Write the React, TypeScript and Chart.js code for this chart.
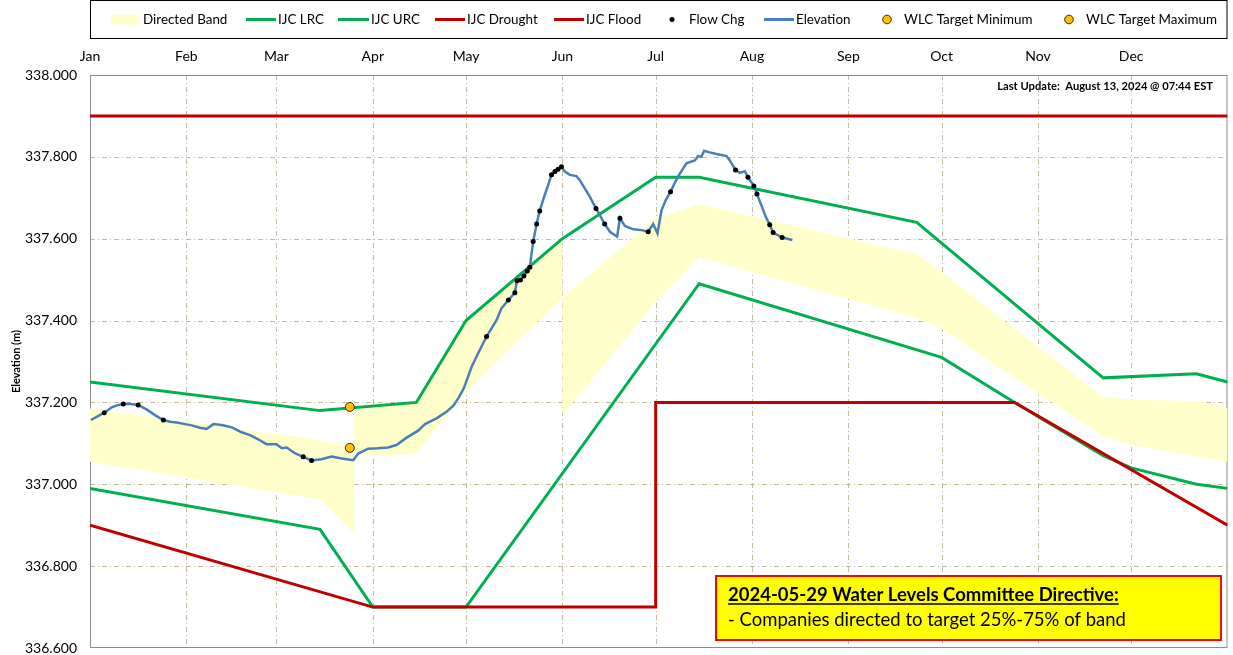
import React, { useEffect, useRef } from "react";
import { Chart, registerables } from "chart.js";

Chart.register(...registerables);

const FONT = "Lato, 'Noto Sans', sans-serif";

// ---- axis data ----
const monthLabels = ["Jan", "Feb", "Mar", "Apr", "May", "Jun", "Jul", "Aug", "Sep", "Oct", "Nov", "Dec"];
const monthStartDays = [0, 31, 60, 91, 121, 152, 182, 213, 244, 274, 305, 335];
const yTickValues = [336.6, 336.8, 337.0, 337.2, 337.4, 337.6, 337.8, 338.0];

// ---- Directed band (day of year, lower/upper elevation) ----
const bandDays = [0, 74, 85, 85.01, 91, 105, 121, 152, 152.01, 182, 196, 266, 274, 297.5, 326, 335, 356, 366];
const bandLower = [337.055, 336.963, 336.88, 337.082, 337.068, 337.075, 337.225, 337.457, 337.17, 337.444, 337.555, 337.406, 337.38, 337.26, 337.118, 337.096, 337.068, 337.055];
const bandUpper = [337.185, 337.108, 337.09, 337.187, 337.191, 337.2, 337.4, 337.6, 337.457, 337.648, 337.685, 337.562, 337.519, 337.38, 337.213, 337.207, 337.203, 337.185];

// ---- IJC rule curves ----
const lrcDays = [0, 74, 91, 121, 196, 274, 297.5, 326, 335, 356, 366];
const lrcValues = [336.99, 336.89, 336.7, 336.7, 337.49, 337.31, 337.2, 337.07, 337.04, 337.0, 336.99];
const urcDays = [0, 74, 105, 121, 152, 182, 196, 266, 326, 356, 366];
const urcValues = [337.25, 337.18, 337.2, 337.4, 337.6, 337.75, 337.75, 337.64, 337.26, 337.27, 337.25];
const droughtDays = [0, 91, 182, 182.01, 297.5, 366];
const droughtValues = [336.9, 336.7, 336.7, 337.2, 337.2, 336.9];
const floodDays = [0, 366];
const floodValues = [337.9, 337.9];

// ---- Observed elevation ----
const elevDays = [0.3, 2.7, 4.6, 7.0, 9.1, 10.7, 12.9, 15.5, 18.2, 20.9, 23.6, 25.7, 27.9, 30.6, 32.7, 35.4, 37.5, 39.7, 42.4, 45.6, 48.8, 51.5, 54.1, 56.8, 60.0, 61.7, 63.3, 65.9, 68.6, 71.3, 74.5, 77.7, 81.0, 84.7, 86.3, 89.5, 92.7, 95.9, 98.6, 101.9, 105.6, 107.8, 111.5, 114.7, 116.9, 118.5, 120.3, 122.8, 124.9, 127.6, 129.2, 130.8, 132.4, 134.6, 136.7, 137.4, 138.5, 139.6, 140.7, 141.5, 142.6, 143.7, 144.7, 145.8, 148.5, 149.6, 150.6, 151.7, 152.8, 154.4, 156.5, 157.6, 159.2, 160.8, 162.8, 164.0, 165.6, 167.3, 169.6, 170.5, 172.1, 174.8, 177.5, 179.6, 181.2, 182.6, 183.9, 185.3, 186.8, 189.2, 191.9, 194.6, 195.7, 196.7, 197.6, 199.4, 201.6, 204.8, 205.8, 207.7, 209.1, 210.7, 211.7, 213.6, 214.6, 216.0, 217.4, 218.7, 219.8, 222.7, 226.0];
const elevValues = [337.157, 337.167, 337.175, 337.188, 337.194, 337.196, 337.196, 337.194, 337.183, 337.169, 337.157, 337.153, 337.151, 337.147, 337.144, 337.138, 337.135, 337.147, 337.145, 337.139, 337.127, 337.12, 337.11, 337.098, 337.098, 337.088, 337.09, 337.076, 337.067, 337.058, 337.061, 337.068, 337.063, 337.059, 337.075, 337.087, 337.088, 337.09, 337.096, 337.114, 337.131, 337.147, 337.161, 337.177, 337.192, 337.21, 337.235, 337.287, 337.32, 337.361, 337.381, 337.401, 337.43, 337.45, 337.468, 337.497, 337.499, 337.509, 337.521, 337.53, 337.593, 337.636, 337.668, 337.695, 337.756, 337.764, 337.77, 337.776, 337.764, 337.756, 337.753, 337.743, 337.723, 337.703, 337.674, 337.658, 337.636, 337.617, 337.605, 337.65, 337.631, 337.623, 337.621, 337.617, 337.636, 337.613, 337.67, 337.695, 337.715, 337.752, 337.784, 337.791, 337.802, 337.8, 337.815, 337.811, 337.807, 337.802, 337.792, 337.768, 337.761, 337.765, 337.75, 337.729, 337.709, 337.682, 337.654, 337.634, 337.615, 337.603, 337.597];

// ---- Flow changes ----
const flowDays = [4.6, 10.7, 15.5, 23.6, 68.6, 71.3, 127.6, 134.6, 136.7, 137.4, 138.5, 139.6, 140.7, 141.5, 142.6, 143.7, 144.7, 148.5, 149.6, 150.6, 151.7, 162.8, 165.6, 170.5, 179.6, 186.8, 207.7, 211.7, 213.6, 214.6, 218.7, 219.8, 222.7];
const flowValues = [337.175, 337.196, 337.194, 337.157, 337.067, 337.058, 337.361, 337.45, 337.468, 337.497, 337.499, 337.509, 337.521, 337.53, 337.593, 337.636, 337.668, 337.756, 337.764, 337.77, 337.776, 337.674, 337.636, 337.65, 337.617, 337.715, 337.768, 337.75, 337.729, 337.709, 337.634, 337.615, 337.603];

// ---- WLC targets ----
const targetMinDays = [83.6];
const targetMinValues = [337.089];
const targetMaxDays = [83.6];
const targetMaxValues = [337.189];

// ---- texts ----
const yTitle = "Elevation (m)";
const lastUpdateText = "Last Update:  August 13, 2024 @ 07:44 EST";
const directiveTitle = "2024-05-29 Water Levels Committee Directive:";
const directiveBody = "- Companies directed to target 25%-75% of band";

const GREEN = "#00B050";
const RED = "#C00000";
const BLUE = "#4A7EBB";
const BAND = "#FFFFCC";
const ORANGE = "#FFC000";

const legendItems = [
  { kind: "rect", color: BAND, label: "Directed Band", x0: 111, x1: 139, tx: 143 },
  { kind: "line", color: GREEN, label: "IJC LRC", x0: 246, x1: 276, tx: 278 },
  { kind: "line", color: GREEN, label: "IJC URC", x0: 338, x1: 369, tx: 371 },
  { kind: "line", color: RED, label: "IJC Drought", x0: 435, x1: 465, tx: 467 },
  { kind: "line", color: RED, label: "IJC Flood", x0: 554, x1: 584, tx: 586 },
  { kind: "dot", color: "#000", label: "Flow Chg", x0: 672, x1: 672, tx: 689 },
  { kind: "line", color: BLUE, label: "Elevation", x0: 764, x1: 794, tx: 796 },
  { kind: "odot", color: ORANGE, label: "WLC Target Minimum", x0: 887, x1: 887, tx: 904 },
  { kind: "odot", color: ORANGE, label: "WLC Target Maximum", x0: 1069, x1: 1069, tx: 1086 },
];

function pts(xs: number[], ys: number[]) {
  return xs.map((x, i) => ({ x, y: ys[i] }));
}

function fitSize(ctx: CanvasRenderingContext2D, text: string, weight: string, target: number) {
  ctx.font = `${weight} 20px ${FONT}`;
  const w = ctx.measureText(text).width;
  return (20 * target) / w;
}

const gridPlugin = {
  id: "customGrid",
  beforeDatasetsDraw(chart: any) {
    const { ctx, chartArea: a, scales } = chart;
    ctx.save();
    ctx.strokeStyle = "rgb(196,189,151)";
    ctx.lineWidth = 1;
    ctx.setLineDash([5, 3, 1, 3]);
    monthStartDays.slice(1).forEach((d) => {
      const px = Math.round(scales.x.getPixelForValue(d)) + 0.5;
      ctx.beginPath();
      ctx.moveTo(px, a.top);
      ctx.lineTo(px, a.bottom);
      ctx.stroke();
    });
    yTickValues.forEach((v) => {
      if (v <= 336.6 || v >= 338.0) return;
      const py = Math.round(scales.y.getPixelForValue(v)) + 0.5;
      ctx.beginPath();
      ctx.moveTo(a.left, py);
      ctx.lineTo(a.right, py);
      ctx.stroke();
    });
    ctx.setLineDash([]);
    ctx.strokeStyle = "#8c8c8c";
    ctx.strokeRect(a.left + 0.5, a.top + 0.5, a.right - a.left - 1, a.bottom - a.top - 1);
    ctx.restore();
  },
};

const overlayPlugin = {
  id: "overlay",
  afterDraw(chart: any) {
    const { ctx, chartArea: a } = chart;
    ctx.save();
    // legend box
    ctx.strokeStyle = "#000";
    ctx.lineWidth = 1;
    ctx.strokeRect(a.left + 0.5, 0.5, a.right - a.left - 1, 38);
    const lsize = fitSize(ctx, "WLC Target Maximum", "normal", 131);
    ctx.font = `normal ${lsize}px ${FONT}`;
    ctx.textBaseline = "middle";
    ctx.textAlign = "left";
    const cy = 19.5;
    legendItems.forEach((it) => {
      if (it.kind === "rect") {
        ctx.fillStyle = it.color;
        ctx.fillRect(it.x0, cy - 5, it.x1 - it.x0, 10);
      } else if (it.kind === "line") {
        ctx.strokeStyle = it.color;
        ctx.lineWidth = 3;
        ctx.beginPath();
        ctx.moveTo(it.x0, cy);
        ctx.lineTo(it.x1, cy);
        ctx.stroke();
      } else if (it.kind === "dot") {
        ctx.fillStyle = it.color;
        ctx.beginPath();
        ctx.arc(it.x0, cy, 2.5, 0, Math.PI * 2);
        ctx.fill();
      } else {
        ctx.fillStyle = it.color;
        ctx.strokeStyle = "#3a2a00";
        ctx.lineWidth = 1;
        ctx.beginPath();
        ctx.arc(it.x0, cy, 4.3, 0, Math.PI * 2);
        ctx.fill();
        ctx.stroke();
      }
      ctx.fillStyle = "#000";
      ctx.fillText(it.label, it.tx, cy + 0.5);
    });

    // last update
    const usize = fitSize(ctx, lastUpdateText, "bold", 216);
    ctx.font = `bold ${usize}px ${FONT}`;
    ctx.textAlign = "right";
    ctx.fillStyle = "#000";
    ctx.fillText(lastUpdateText, 1213, 86);

    // directive box
    const bx = 716, by = 576, bw = 505, bh = 64;
    ctx.fillStyle = "#FFFF00";
    ctx.fillRect(bx, by, bw, bh);
    ctx.strokeStyle = "#FF0000";
    ctx.lineWidth = 2;
    ctx.strokeRect(bx, by, bw, bh);
    ctx.textAlign = "left";
    ctx.textBaseline = "alphabetic";
    ctx.fillStyle = "#000";
    const tsize = fitSize(ctx, directiveTitle, "bold", 391);
    ctx.font = `bold ${tsize}px ${FONT}`;
    ctx.fillText(directiveTitle, 728, 601);
    const tw = ctx.measureText(directiveTitle).width;
    ctx.strokeStyle = "#000";
    ctx.lineWidth = 1.4;
    ctx.beginPath();
    ctx.moveTo(728, 604);
    ctx.lineTo(728 + tw, 604);
    ctx.stroke();
    const bsize = fitSize(ctx, directiveBody, "normal", 398);
    ctx.font = `normal ${bsize}px ${FONT}`;
    ctx.fillText(directiveBody, 728, 626);
    ctx.restore();
  },
};

export default function App() {
  const ref = useRef<HTMLCanvasElement>(null);
  useEffect(() => {
    if (!ref.current) return;
    const lineDs = (label: string, xs: number[], ys: number[], color: string, width: number, order: number) => ({
      label,
      data: pts(xs, ys),
      borderColor: color,
      backgroundColor: color,
      borderWidth: width,
      pointRadius: 0,
      tension: 0,
      fill: false,
      order,
    });
    const chart = new Chart(ref.current, {
      type: "line",
      data: {
        datasets: [
          {
            label: "WLC Target Maximum",
            data: pts(targetMaxDays, targetMaxValues),
            showLine: false,
            pointRadius: 4.5,
            pointBackgroundColor: ORANGE,
            pointBorderColor: "#3a2a00",
            pointBorderWidth: 1,
            order: 0,
          },
          {
            label: "WLC Target Minimum",
            data: pts(targetMinDays, targetMinValues),
            showLine: false,
            pointRadius: 4.5,
            pointBackgroundColor: ORANGE,
            pointBorderColor: "#3a2a00",
            pointBorderWidth: 1,
            order: 1,
          },
          {
            label: "Flow Chg",
            data: pts(flowDays, flowValues),
            showLine: false,
            pointRadius: 2.5,
            pointBackgroundColor: "#000",
            pointBorderWidth: 0,
            order: 2,
          },
          lineDs("Elevation", elevDays, elevValues, BLUE, 2.5, 3),
          lineDs("IJC Flood", floodDays, floodValues, RED, 3, 4),
          lineDs("IJC Drought", droughtDays, droughtValues, RED, 3, 5),
          lineDs("IJC URC", urcDays, urcValues, GREEN, 3, 6),
          lineDs("IJC LRC", lrcDays, lrcValues, GREEN, 3, 7),
          {
            label: "Directed Band",
            data: pts(bandDays, bandUpper),
            borderColor: "rgba(0,0,0,0)",
            borderWidth: 0,
            backgroundColor: BAND,
            pointRadius: 0,
            tension: 0,
            fill: 9,
            order: 8,
          },
          {
            label: "Directed Band Lower",
            data: pts(bandDays, bandLower),
            borderColor: "rgba(0,0,0,0)",
            borderWidth: 0,
            backgroundColor: BAND,
            pointRadius: 0,
            tension: 0,
            fill: false,
            order: 9,
          },
        ] as any,
      },
      options: {
        responsive: false,
        animation: false,
        layout: { padding: { left: 0, right: 5, top: 0, bottom: 7 } },
        plugins: { legend: { display: false }, tooltip: { enabled: false } },
        scales: {
          x: {
            type: "linear",
            position: "top",
            min: 0,
            max: 366,
            grid: { display: false, drawTicks: false },
            border: { display: false },
            afterBuildTicks: (s: any) => {
              s.ticks = monthStartDays.map((v) => ({ value: v }));
            },
            afterFit: (s: any) => {
              s.height = 75;
              s.paddingLeft = 0;
              s.paddingRight = 0;
            },
            ticks: {
              autoSkip: false,
              maxRotation: 0,
              padding: 10,
              color: "#000",
              font: { family: FONT, size: 14 },
              callback: (_v: any, i: number) => monthLabels[i],
            },
          },
          y: {
            type: "linear",
            min: 336.6,
            max: 338.0,
            grid: { display: false, drawTicks: false },
            border: { display: false },
            afterBuildTicks: (s: any) => {
              s.ticks = yTickValues.map((v) => ({ value: v }));
            },
            afterFit: (s: any) => {
              s.width = 90;
              s.paddingTop = 0;
              s.paddingBottom = 0;
            },
            ticks: {
              padding: 13,
              color: "#000",
              font: { family: FONT, size: 14 },
              callback: (v: any) => Number(v).toFixed(3),
            },
            title: {
              display: true,
              text: yTitle,
              color: "#000",
              font: { family: FONT, size: 11, weight: "bold" },
              padding: { top: 10, bottom: 0 },
            },
          },
        },
      } as any,
      plugins: [gridPlugin, overlayPlugin],
    });
    return () => chart.destroy();
  }, []);
  return (
    <div style={{ position: "fixed", left: 0, top: 0, width: 1233, height: 655, background: "#fff" }}>
      <canvas ref={ref} width={1233} height={655} style={{ display: "block" }} />
    </div>
  );
}
